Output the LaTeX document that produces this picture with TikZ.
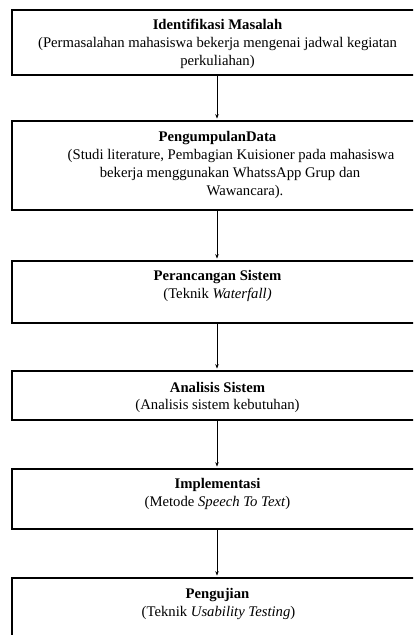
\documentclass[tikz,border=0pt]{standalone}
\usepackage{fontspec}
\setmainfont{Liberation Serif}
\usetikzlibrary{arrows.meta}
\begin{document}
\begin{tikzpicture}[x=1pt,y=-1pt,
  stagebox/.style={draw=black, line width=1.8pt, fill=white, rectangle,
    inner sep=0pt, minimum width=413pt},
  txt/.style={anchor=base, inner sep=0pt, font=\fontsize{14.7}{18}\selectfont},
  arr/.style={line width=0.7pt, -{Stealth[length=4.5pt,width=3.5pt]}, shorten >=1.5pt}]
\useasboundingbox (0,0) rectangle (413,635);
\clip (0,0) rectangle (413,635);
\coordinate (col) at (217,0);

% stage frames (they run past the right edge)
\node[stagebox, minimum height=65pt] (b1) at (218.5,42.5) {};
\node[stagebox, minimum height=89pt] (b2) at (218.5,165.5) {};
\node[stagebox, minimum height=62pt] (b3) at (218.5,292) {};
\node[stagebox, minimum height=49pt] (b4) at (218.5,395.5) {};
\node[stagebox, minimum height=60pt] (b5) at (218.5,499) {};
\node[stagebox, minimum height=82pt] (b6) at (218.5,619) {};

% stage texts
\node[txt] (t1a) at (217.5,29) {\textbf{Identifikasi Masalah}};
\node[txt] (t1b) at (217.5,47) {(Permasalahan mahasiswa bekerja mengenai jadwal kegiatan};
\node[txt] (t1c) at (217.5,65) {perkuliahan)};

\node[txt] (t2a) at (217.5,141) {\textbf{PengumpulanData}};
\node[txt] (t2b) at (231,159) {(Studi literature, Pembagian Kuisioner pada mahasiswa};
\node[txt] (t2c) at (230,177) {bekerja menggunakan WhatssApp Grup dan};
\node[txt] (t2d) at (245,195) {Wawancara).};

\node[txt] (t3a) at (217.5,280) {\textbf{Perancangan Sistem}};
\node[txt] (t3b) at (217.5,298) {(Teknik \textit{Waterfall)}};

\node[txt] (t4a) at (217.5,392) {\textbf{Analisis Sistem}};
\node[txt] (t4b) at (217.5,409) {(Analisis sistem kebutuhan)};

\node[txt] (t5a) at (217.5,488) {\textbf{Implementasi}};
\node[txt] (t5b) at (217.5,506) {(Metode \textit{Speech To Text})};

\node[txt] (t6a) at (217.5,598) {\textbf{Pengujian}};
\node[txt] (t6b) at (218.5,616) {(Teknik \textit{Usability Testing})};

% flow arrows
\draw[arr] (b1.south -| col) -- (b2.north -| col);
\draw[arr] (b2.south -| col) -- (b3.north -| col);
\draw[arr] (b3.south -| col) -- (b4.north -| col);
\draw[arr] (b4.south -| col) -- (b5.north -| col);
\draw[arr] (b5.south -| col) -- (b6.north -| col);
\end{tikzpicture}
\end{document}
